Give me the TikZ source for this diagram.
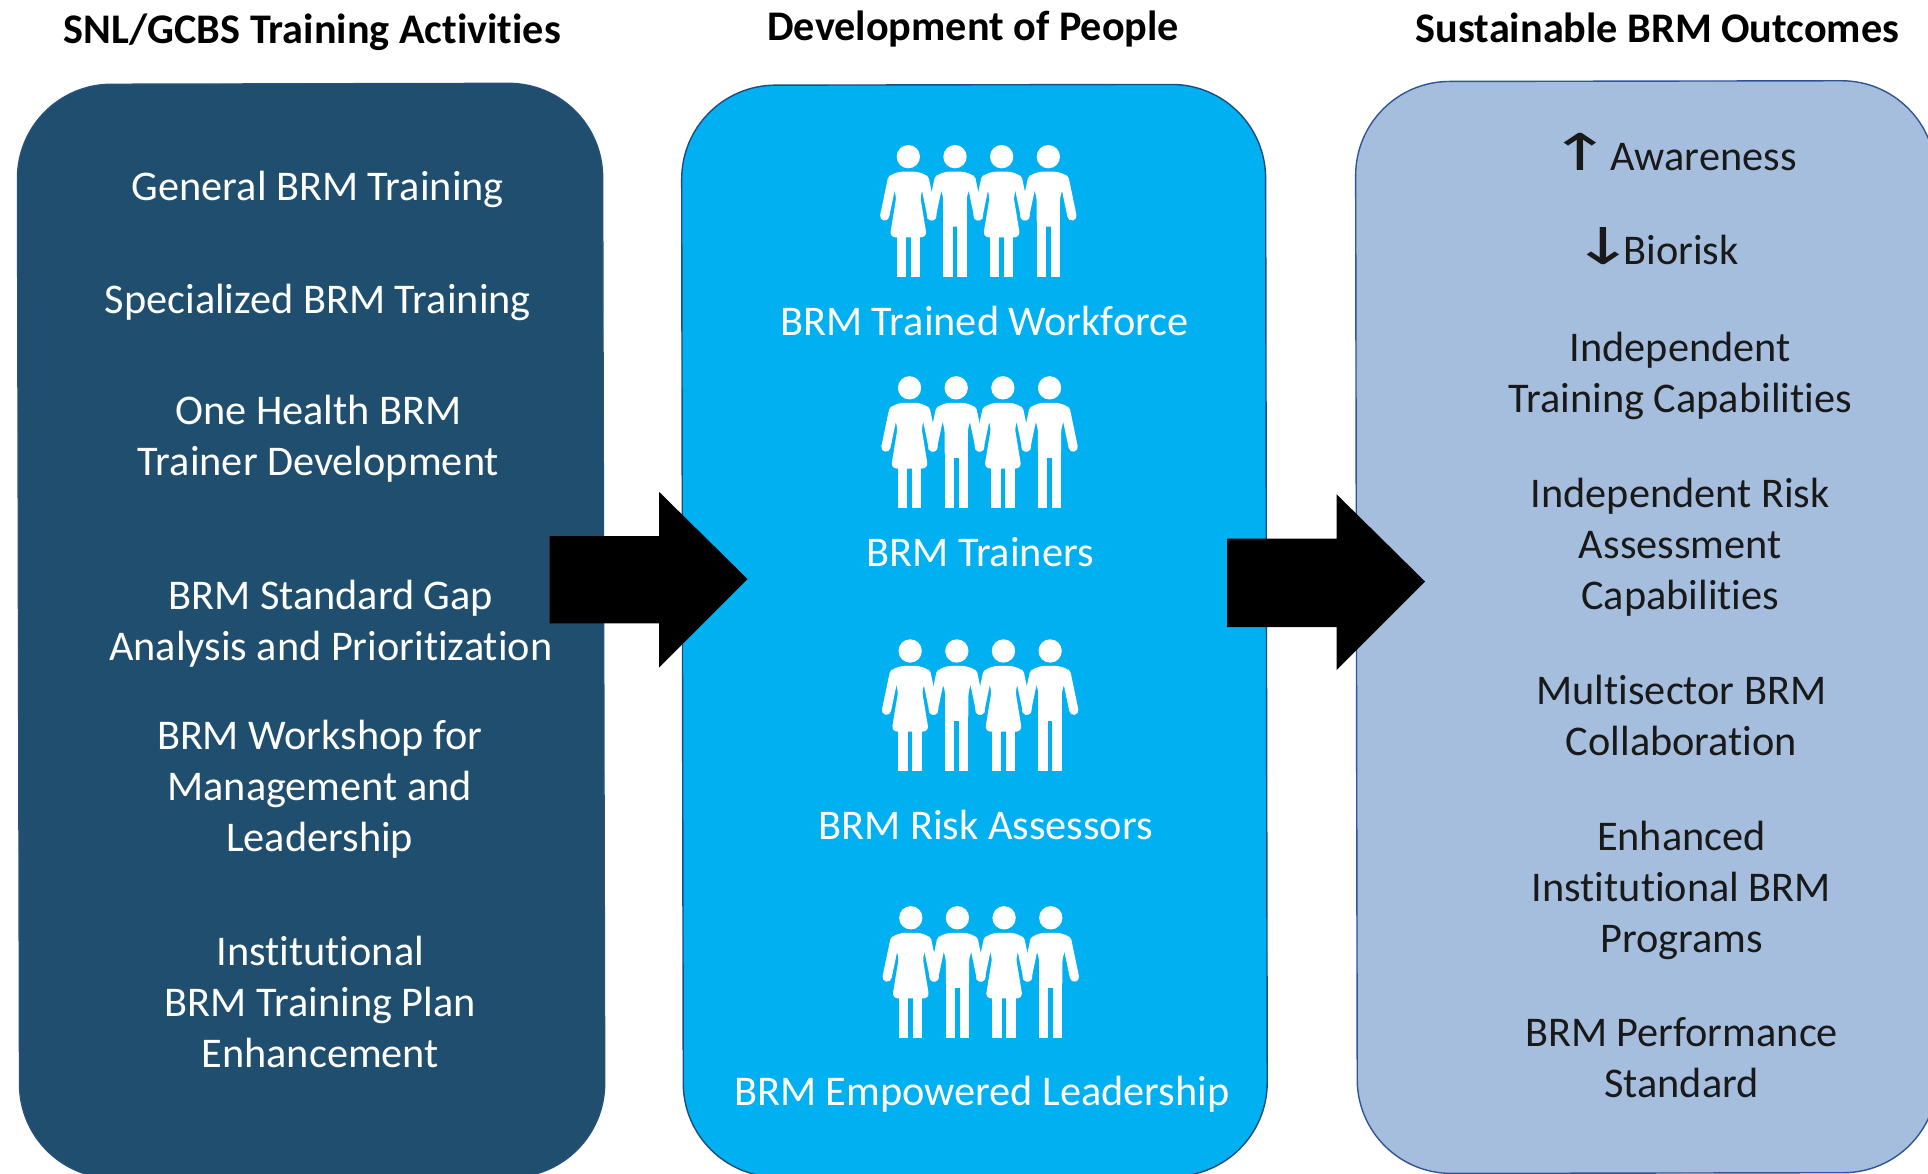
\documentclass[tikz,border=0pt]{standalone}
\usepackage{fontspec}
\setmainfont{Carlito}[Ligatures=CommonOff]
\newfontfamily\arrowfont{DejaVu Sans}
\newcommand{\uparr}{\scalebox{1.8}[1.2]{\arrowfont ↑}}
\newcommand{\downarr}{\scalebox{1.8}[1.2]{\arrowfont ↓}}
\tikzset{
  x=0.6148pt,y=-0.6148pt,
  panel/.style={draw,line width=0.7pt,rounded corners=47pt,inner sep=0pt},
  itemw/.style={text=white,align=center,inner sep=0pt,font=\fontsize{21.15}{25.5}\selectfont},
  itemk/.style={text=black!90,align=center,inner sep=0pt,font=\fontsize{21.15}{25.5}\selectfont},
  heading/.style={text=black,align=center,inner sep=0pt,font=\bfseries\fontsize{21.1}{25}\selectfont},
  bigarrow/.style={fill=black,draw=none},
  limb/.style={draw=white,line width=4.6pt,line cap=round},
  people/.pic={
    \begin{scope}[x=0.16667pt,y=-0.16667pt,fill=white]
      \foreach \hx in {145,285,425,565}{\fill (\hx,110) circle[radius=35];}
      \foreach \cx in {145,425}{
        \fill[rounded corners=3pt] (\cx-35,155) -- (\cx+35,155) -- (\cx+62,172) -- (\cx+35,225) -- (\cx+56,352) -- (\cx-56,352) -- (\cx-35,225) -- (\cx-62,172) -- cycle;
        \fill (\cx-35,340) rectangle (\cx-7,470);
        \fill (\cx+7,340) rectangle (\cx+35,470);
        \draw[limb] (\cx-48,178) -- (\cx-71,288);
        \draw[limb] (\cx+48,178) -- (\cx+71,288);
      }
      \foreach \cx in {285,565}{
        \fill[rounded corners=3pt] (\cx-35,155) -- (\cx+35,155) -- (\cx+62,172) -- (\cx+35,225) -- (\cx+35,320) -- (\cx-35,320) -- (\cx-35,225) -- (\cx-62,172) -- cycle;
        \fill (\cx-35,300) rectangle (\cx-7,470);
        \fill (\cx+7,300) rectangle (\cx+35,470);
        \fill (\cx-35,200) rectangle (\cx+35,308);
        \draw[limb] (\cx-48,178) -- (\cx-71,288);
        \draw[limb] (\cx+48,178) -- (\cx+71,288);
      }
    \end{scope}
  }
}
\begin{document}
\begin{tikzpicture}
\useasboundingbox (0,0) rectangle (1568,954.8);
\clip (0,0) rectangle (1568,954.8);
\fill[white] (0,0) rectangle (1568,954.8);
% panels
\node[panel,draw={rgb,255:red,40;green,80;blue,125},fill={rgb,255:red,31;green,78;blue,110},minimum width=292.6pt,minimum height=547pt,rotate=0.13] (left) at (253,513) {};
\node[panel,draw={rgb,255:red,30;green,75;blue,130},fill={rgb,255:red,0;green,176;blue,240},minimum width=292pt,minimum height=546pt,rotate=0.1] (mid) at (792.5,513) {};
\node[panel,draw={rgb,255:red,47;green,85;blue,151},fill={rgb,255:red,166;green,190;blue,222},minimum width=290pt,minimum height=546pt,rotate=0.1] (right) at (1339,510) {};
% headings
\node[heading] (h1) at (254,26.5) {SNL/GCBS Training Activities};
\node[heading] (h2) at (791.5,24) {Development of People};
\node[heading] (h3) at (1348,23) {Sustainable BRM Outcomes};
% left items
\node[itemw] (l1) at (258.5,154) {General BRM Training};
\node[itemw] (l2) at (258.5,246) {Specialized BRM Training};
\node[itemw] (l3) at (259,357) {One Health BRM\\Trainer Development};
\node[itemw] (l4) at (269,507) {BRM Standard Gap\\Analysis and Prioritization};
\node[itemw] (l5) at (260,642) {BRM Workshop for\\Management and\\Leadership};
\node[itemw] (l6) at (260.5,815) {Institutional\\BRM Training Plan\\Enhancement};
% people
\pic at (699.4,97.6) {people};
\pic at (700.4,285.6) {people};
\pic at (700.9,499.6) {people};
\pic at (701.4,716.6) {people};
\node[itemw] (m1) at (800.5,261) {BRM Trained Workforce};
\node[itemw] (m2) at (797,449) {BRM Trainers};
\node[itemw] (m3) at (801.5,671) {BRM Risk Assessors};
\node[itemw] (m4) at (798.5,890) {BRM Empowered Leadership};
% right items
\node[itemk] (r1) at (1360,124) {\uparr\hspace{-0.7pt}Awareness};
\node[itemk] (r2) at (1346,200.5) {\downarr\hspace{-6pt}Biorisk};
\node[itemk] (r3) at (1366.5,305.5) {Independent\\Training Capabilities};
\node[itemk] (r4) at (1366.5,445) {Independent Risk\\Assessment\\Capabilities};
\node[itemk] (r5) at (1367.5,582) {Multisector BRM\\Collaboration};
\node[itemk] (r6) at (1367.5,724.5) {Enhanced\\Institutional BRM\\Programs};
\node[itemk] (r7) at (1367.5,860) {BRM Performance\\Standard};
% block arrows
\fill[bigarrow] (447,436) -- (536,436) -- (536,400) -- (608,471) -- (536,543) -- (536,507) -- (447,507) -- cycle;
\fill[bigarrow] (998,438) -- (1087,438) -- (1087,402) -- (1159,473) -- (1087,545) -- (1087,510) -- (998,510) -- cycle;
\end{tikzpicture}
\end{document}
